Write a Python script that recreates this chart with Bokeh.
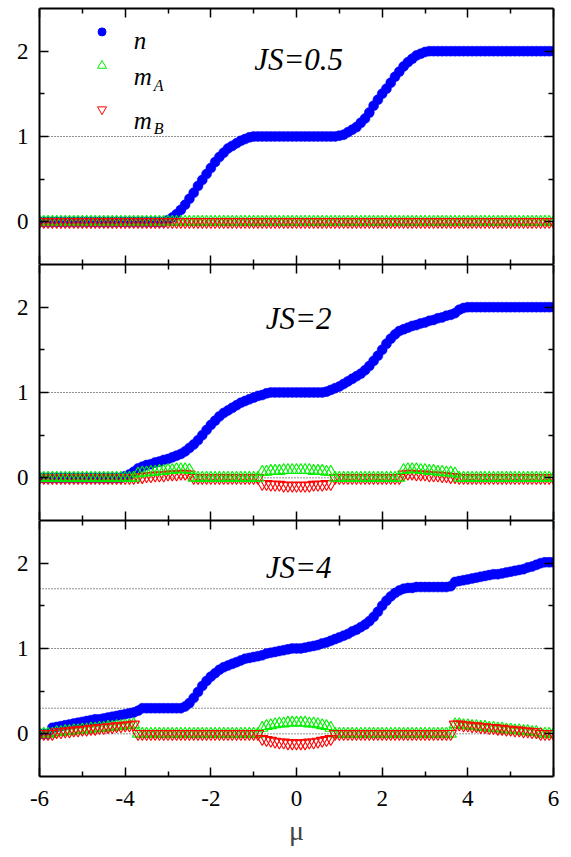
from bokeh.plotting import figure
from bokeh.layouts import column
from bokeh.models import LinearAxis, FixedTicker, Span, Range1d
from bokeh.core.properties import value
from bokeh.embed import file_html
from bokeh.resources import INLINE

# ---------------- data ----------------
mu = [round(-6.0 + 0.1 * i, 1) for i in range(121)]

x_ticks = [-6, -4, -2, 0, 2, 4, 6]
x_minor = [-5, -3, -1, 1, 3, 5]
x_tick_labels = ["-6", "-4", "-2", "0", "2", "4", "6"]
y_ticks = [0, 1, 2]
y_minor = [0.5, 1.5]

panel_labels = ["JS=0.5", "JS=2", "JS=4"]
legend_labels = ["n", "m", "A", "m", "B"]

# JS = 0.5
n_js05 = [
    0, 0, 0, 0, 0, 0, 0, 0, 0, 0, 0,
    0, 0, 0, 0, 0, 0, 0, 0, 0, 0, 0,
    0, 0, 0, 0, 0, 0, 0, 0, 0.02, 0.05, 0.09,
    0.14, 0.20, 0.27, 0.34, 0.42, 0.49, 0.56, 0.63, 0.70, 0.76, 0.81,
    0.86, 0.89, 0.92, 0.95, 0.97, 0.99, 1.0, 1.0, 1.0, 1.0, 1.0,
    1.0, 1.0, 1.0, 1.0, 1.0, 1.0, 1.0, 1.0, 1.0, 1.0, 1.0,
    1.0, 1.0, 1.0, 1.0, 1.01, 1.02, 1.05, 1.08, 1.11, 1.16, 1.21,
    1.28, 1.36, 1.43, 1.50, 1.56, 1.63, 1.70, 1.76, 1.82, 1.87, 1.91,
    1.95, 1.97, 1.99, 2.0, 2.0, 2.0, 2.0, 2.0, 2.0, 2.0, 2.0,
    2.0, 2.0, 2.0, 2.0, 2.0, 2.0, 2.0, 2.0, 2.0, 2.0, 2.0,
    2.0, 2.0, 2.0, 2.0, 2.0, 2.0, 2.0, 2.0, 2.0, 2.0, 2.0,
]
mA_js05 = [
    0, 0, 0, 0, 0, 0, 0, 0, 0, 0, 0,
    0, 0, 0, 0, 0, 0, 0, 0, 0, 0, 0,
    0, 0, 0, 0, 0, 0, 0, 0, 0, 0, 0,
    0, 0, 0, 0, 0, 0, 0, 0, 0, 0, 0,
    0, 0, 0, 0, 0, 0, 0, 0, 0, 0, 0,
    0, 0, 0, 0, 0, 0, 0, 0, 0, 0, 0,
    0, 0, 0, 0, 0, 0, 0, 0, 0, 0, 0,
    0, 0, 0, 0, 0, 0, 0, 0, 0, 0, 0,
    0, 0, 0, 0, 0, 0, 0, 0, 0, 0, 0,
    0, 0, 0, 0, 0, 0, 0, 0, 0, 0, 0,
    0, 0, 0, 0, 0, 0, 0, 0, 0, 0, 0,
]
mB_js05 = [
    0, 0, 0, 0, 0, 0, 0, 0, 0, 0, 0,
    0, 0, 0, 0, 0, 0, 0, 0, 0, 0, 0,
    0, 0, 0, 0, 0, 0, 0, 0, 0, 0, 0,
    0, 0, 0, 0, 0, 0, 0, 0, 0, 0, 0,
    0, 0, 0, 0, 0, 0, 0, 0, 0, 0, 0,
    0, 0, 0, 0, 0, 0, 0, 0, 0, 0, 0,
    0, 0, 0, 0, 0, 0, 0, 0, 0, 0, 0,
    0, 0, 0, 0, 0, 0, 0, 0, 0, 0, 0,
    0, 0, 0, 0, 0, 0, 0, 0, 0, 0, 0,
    0, 0, 0, 0, 0, 0, 0, 0, 0, 0, 0,
    0, 0, 0, 0, 0, 0, 0, 0, 0, 0, 0,
]

# JS = 2
n_js2 = [
    0, 0, 0, 0, 0, 0, 0, 0, 0, 0, 0,
    0, 0, 0, 0, 0, 0, 0, 0, 0, 0.02, 0.04,
    0.07, 0.11, 0.13, 0.15, 0.16, 0.18, 0.19, 0.21, 0.22, 0.24, 0.26,
    0.28, 0.31, 0.35, 0.39, 0.44, 0.50, 0.56, 0.62, 0.67, 0.72, 0.76,
    0.79, 0.82, 0.85, 0.88, 0.90, 0.92, 0.94, 0.96, 0.97, 0.99, 1.0,
    1.0, 1.0, 1.0, 1.0, 1.0, 1.0, 1.0, 1.0, 1.0, 1.0, 1.0,
    1.0, 1.01, 1.03, 1.05, 1.07, 1.10, 1.13, 1.16, 1.19, 1.22, 1.26,
    1.31, 1.37, 1.43, 1.50, 1.57, 1.63, 1.68, 1.72, 1.74, 1.76, 1.78,
    1.79, 1.81, 1.82, 1.84, 1.85, 1.87, 1.88, 1.90, 1.91, 1.93, 1.97,
    1.99, 2.0, 2.0, 2.0, 2.0, 2.0, 2.0, 2.0, 2.0, 2.0, 2.0,
    2.0, 2.0, 2.0, 2.0, 2.0, 2.0, 2.0, 2.0, 2.0, 2.0, 2.0,
]
mA_js2 = [
    0, 0, 0, 0, 0, 0, 0, 0, 0, 0, 0,
    0, 0, 0, 0, 0, 0, 0, 0, 0, 0, 0,
    0, 0.05, 0.06, 0.06, 0.07, 0.07, 0.08, 0.08, 0.09, 0.09, 0.10,
    0.10, 0.10, 0.09, 0, 0, 0, 0, 0, 0, 0, 0,
    0, 0, 0, 0, 0, 0, 0, 0, 0.07, 0.07, 0.08,
    0.08, 0.08, 0.09, 0.09, 0.09, 0.09, 0.09, 0.09, 0.09, 0.08, 0.08,
    0.08, 0.07, 0.07, 0, 0, 0, 0, 0, 0, 0, 0,
    0, 0, 0, 0, 0, 0, 0, 0, 0.09, 0.10, 0.10,
    0.10, 0.09, 0.09, 0.08, 0.08, 0.07, 0.07, 0.06, 0.06, 0.05, 0,
    0, 0, 0, 0, 0, 0, 0, 0, 0, 0, 0,
    0, 0, 0, 0, 0, 0, 0, 0, 0, 0, 0,
]
mB_js2 = [
    0, 0, 0, 0, 0, 0, 0, 0, 0, 0, 0,
    0, 0, 0, 0, 0, 0, 0, 0, 0, 0, 0,
    0, 0.01, 0.01, 0.02, 0.02, 0.03, 0.03, 0.03, 0.04, 0.04, 0.04,
    0.05, 0.05, 0.04, 0, 0, 0, 0, 0, 0, 0, 0,
    0, 0, 0, 0, 0, 0, 0, 0, -0.07, -0.07, -0.08,
    -0.08, -0.08, -0.09, -0.09, -0.09, -0.09, -0.09, -0.09, -0.09, -0.08, -0.08,
    -0.08, -0.07, -0.07, 0, 0, 0, 0, 0, 0, 0, 0,
    0, 0, 0, 0, 0, 0, 0, 0, 0.04, 0.05, 0.05,
    0.04, 0.04, 0.04, 0.03, 0.03, 0.03, 0.02, 0.02, 0.01, 0.01, 0,
    0, 0, 0, 0, 0, 0, 0, 0, 0, 0, 0,
    0, 0, 0, 0, 0, 0, 0, 0, 0, 0, 0,
]

# JS = 4
n_js4 = [
    0, 0, 0, 0.07, 0.08, 0.09, 0.10, 0.11, 0.12, 0.13, 0.14,
    0.15, 0.16, 0.17, 0.17, 0.18, 0.19, 0.20, 0.21, 0.22, 0.23, 0.24,
    0.25, 0.27, 0.30, 0.30, 0.30, 0.30, 0.30, 0.30, 0.30, 0.30, 0.30,
    0.30, 0.32, 0.36, 0.42, 0.49, 0.56, 0.62, 0.67, 0.71, 0.75, 0.78,
    0.80, 0.82, 0.84, 0.86, 0.88, 0.89, 0.90, 0.91, 0.92, 0.94, 0.95,
    0.96, 0.97, 0.98, 0.99, 1.0, 1.0, 1.0, 1.01, 1.02, 1.03, 1.04,
    1.06, 1.07, 1.09, 1.11, 1.13, 1.15, 1.17, 1.20, 1.22, 1.25, 1.28,
    1.32, 1.37, 1.43, 1.50, 1.56, 1.61, 1.65, 1.68, 1.70, 1.71, 1.71,
    1.72, 1.72, 1.72, 1.72, 1.72, 1.72, 1.72, 1.72, 1.73, 1.78, 1.79,
    1.80, 1.81, 1.82, 1.83, 1.84, 1.85, 1.86, 1.87, 1.87, 1.88, 1.89,
    1.90, 1.91, 1.92, 1.93, 1.95, 1.96, 1.98, 2.00, 2.01, 2.01, 2.01,
]
mA_js4 = [
    0, 0, 0, 0, 0.02, 0.02, 0.03, 0.03, 0.04, 0.04, 0.05,
    0.05, 0.06, 0.06, 0.07, 0.07, 0.08, 0.08, 0.09, 0.09, 0.10, 0.10,
    0.11, 0, 0, 0, 0, 0, 0, 0, 0, 0, 0,
    0, 0, 0, 0, 0, 0, 0, 0, 0, 0, 0,
    0, 0, 0, 0, 0, 0, 0, 0, 0.07, 0.09, 0.10,
    0.11, 0.12, 0.12, 0.13, 0.13, 0.13, 0.13, 0.13, 0.12, 0.12, 0.11,
    0.10, 0.09, 0.07, 0, 0, 0, 0, 0, 0, 0, 0,
    0, 0, 0, 0, 0, 0, 0, 0, 0, 0, 0,
    0, 0, 0, 0, 0, 0, 0, 0, 0, 0.11, 0.11,
    0.10, 0.10, 0.09, 0.09, 0.08, 0.08, 0.07, 0.07, 0.06, 0.06, 0.05,
    0.05, 0.04, 0.04, 0.03, 0.03, 0.02, 0.02, 0, 0, 0, 0,
]
mB_js4 = [
    0, 0, 0, 0, 0.02, 0.02, 0.03, 0.03, 0.04, 0.04, 0.05,
    0.05, 0.06, 0.06, 0.07, 0.07, 0.08, 0.08, 0.09, 0.09, 0.10, 0.10,
    0.11, 0, 0, 0, 0, 0, 0, 0, 0, 0, 0,
    0, 0, 0, 0, 0, 0, 0, 0, 0, 0, 0,
    0, 0, 0, 0, 0, 0, 0, 0, -0.06, -0.07, -0.08,
    -0.09, -0.10, -0.10, -0.11, -0.11, -0.11, -0.11, -0.11, -0.10, -0.10, -0.09,
    -0.08, -0.07, -0.06, 0, 0, 0, 0, 0, 0, 0, 0,
    0, 0, 0, 0, 0, 0, 0, 0, 0, 0, 0,
    0, 0, 0, 0, 0, 0, 0, 0, 0, 0.11, 0.11,
    0.10, 0.10, 0.09, 0.09, 0.08, 0.08, 0.07, 0.07, 0.06, 0.06, 0.05,
    0.05, 0.04, 0.04, 0.03, 0.03, 0.02, 0.02, 0, 0, 0, 0,
]

ref_levels = [[0, 1], [0, 1], [0, 0.3, 1, 1.7]]

# ---------------- style ----------------
BLUE = "#0000ff"
GREEN = "#00f000"
RED = "#ff0000"
SERIF = "Liberation Serif"

panels = [
    dict(label=panel_labels[0], n=n_js05, a=mA_js05, b=mB_js05, levels=ref_levels[0],
         red_top=True, ty=1.90),
    dict(label=panel_labels[1], n=n_js2, a=mA_js2, b=mB_js2, levels=ref_levels[1],
         red_top=False, ty=1.87),
    dict(label=panel_labels[2], n=n_js4, a=mA_js4, b=mB_js4, levels=ref_levels[2],
         red_top=True, ty=1.95),
]


def style_axis(ax, show_labels):
    ax.axis_line_width = 2
    ax.axis_line_color = "black"
    ax.major_tick_in = 9
    ax.major_tick_out = 0
    ax.minor_tick_in = 5
    ax.minor_tick_out = 0
    ax.major_tick_line_width = 1.5
    ax.minor_tick_line_width = 1.5
    ax.major_tick_line_color = "black"
    ax.minor_tick_line_color = "black"
    if show_labels:
        ax.major_label_text_font = SERIF
        ax.major_label_text_font_size = "23px"
        ax.major_label_text_color = "black"
    else:
        ax.major_label_text_font_size = "0px"
        ax.major_label_standoff = 0


figs = []
for k, pd_ in enumerate(panels):
    first = k == 0
    last = k == len(panels) - 1
    p = figure(frame_width=514, frame_height=256,
               x_range=Range1d(-6, 6), y_range=Range1d(-0.5, 2.5),
               output_backend="svg", toolbar_location=None,
               min_border_left=39, min_border_right=18,
               min_border_top=8 if first else 0,
               min_border_bottom=81 if last else 0)
    p.outline_line_color = None
    p.xgrid.visible = False
    p.ygrid.visible = False

    xt = FixedTicker(ticks=x_ticks, minor_ticks=x_minor)
    yt = FixedTicker(ticks=y_ticks, minor_ticks=y_minor)
    p.xaxis[0].ticker = xt
    p.yaxis[0].ticker = yt
    style_axis(p.xaxis[0], last)
    style_axis(p.yaxis[0], True)
    p.yaxis[0].major_label_standoff = 11
    if last:
        p.xaxis[0].major_label_overrides = {t: s for t, s in zip(x_ticks, x_tick_labels)}
        p.xaxis[0].major_label_standoff = 14
        p.xaxis[0].axis_label = "μ"
        p.xaxis[0].axis_label_text_font = SERIF
        p.xaxis[0].axis_label_text_font_style = "normal"
        p.xaxis[0].axis_label_text_font_size = "28px"
        p.xaxis[0].axis_label_standoff = 6
    top_ax = LinearAxis(ticker=xt)
    style_axis(top_ax, False)
    p.add_layout(top_ax, "above")
    right_ax = LinearAxis(ticker=yt)
    style_axis(right_ax, False)
    p.add_layout(right_ax, "right")

    for lv in pd_["levels"]:
        sp = Span(location=lv, dimension="width", line_color="#222222",
                  line_dash="1 2", line_width=1, level="underlay")
        p.add_layout(sp)

    p.scatter(mu, pd_["n"], marker="circle", size=10,
              fill_color=BLUE, line_color=BLUE, line_width=0.5)
    green_kw = dict(marker="triangle", size=11.5, fill_color=None,
                    line_color=GREEN, line_width=1.1)
    red_kw = dict(marker="inverted_triangle", size=11.5, fill_color=None,
                  line_color=RED, line_width=1.1)
    if pd_["red_top"]:
        p.scatter(mu, pd_["a"], **green_kw)
        p.scatter(mu, pd_["b"], **red_kw)
    else:
        p.scatter(mu, pd_["b"], **red_kw)
        p.scatter(mu, pd_["a"], **green_kw)

    p.text(x=[0.05], y=[pd_["ty"]], text=[pd_["label"]],
           text_font=value(SERIF), text_font_style="italic",
           text_font_size="31px", text_align="center",
           text_baseline="alphabetic", text_color="black")

    if first:
        lx = -4.54
        p.scatter([lx], [2.226], marker="circle", size=8,
                  fill_color=BLUE, line_color=BLUE)
        p.scatter([lx], [1.83], marker="triangle", size=9,
                  fill_color=None, line_color=GREEN, line_width=1)
        p.scatter([lx], [1.317], marker="inverted_triangle", size=9,
                  fill_color=None, line_color=RED, line_width=1)
        common = dict(text_font=value(SERIF), text_font_style="italic",
                      text_align="left", text_baseline="alphabetic",
                      text_color="black")
        p.text(x=[-3.80], y=[2.13], text=[legend_labels[0]],
               text_font_size="25px", **common)
        p.text(x=[-3.80], y=[1.70], text=[legend_labels[1]],
               text_font_size="25px", **common)
        p.text(x=[-3.33], y=[1.60], text=[legend_labels[2]],
               text_font_size="16px", **common)
        p.text(x=[-3.80], y=[1.19], text=[legend_labels[3]],
               text_font_size="25px", **common)
        p.text(x=[-3.33], y=[1.096], text=[legend_labels[4]],
               text_font_size="16px", **common)
    figs.append(p)

layout = column(*figs, spacing=0)
open("out.html", "w").write(file_html(layout, INLINE))
